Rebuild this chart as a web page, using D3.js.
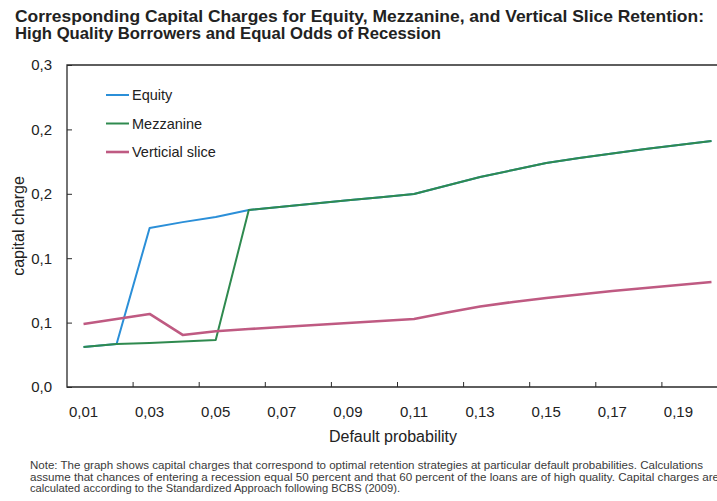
<!DOCTYPE html>
<html>
<head>
<meta charset="utf-8">
<script src="https://cdn.jsdelivr.net/npm/d3@7/dist/d3.min.js"></script>
<style>
    body { margin: 0; background: #fff; }
    text { font-family: "Liberation Sans", Arial, sans-serif; fill: #222; }
</style>
</head>
<body>
<svg id="chart" width="717" height="501"></svg>
<script>
// default probabilities (categories)
const categories = ["0,01", "0,02", "0,03", "0,04", "0,05", "0,06", "0,07", "0,08", "0,09", "0,10",
    "0,11", "0,12", "0,13", "0,14", "0,15", "0,16", "0,17", "0,18", "0,19", "0,20"];

const equity = [0.031, 0.0334, 0.1234, 0.128, 0.132, 0.1374, 0.1399, 0.1424, 0.1449, 0.1474,
    0.1498, 0.1564, 0.163, 0.1685, 0.1739, 0.1778, 0.1813, 0.1848, 0.1879, 0.191];
const mezzanine = [0.031, 0.0334, 0.0342, 0.0353, 0.0365, 0.1374, 0.1399, 0.1424, 0.1449, 0.1474,
    0.1498, 0.1564, 0.163, 0.1685, 0.1739, 0.1778, 0.1813, 0.1848, 0.1879, 0.191];
const verticalSlice = [0.0489, 0.0528, 0.0567, 0.0404, 0.0433, 0.045, 0.0466, 0.0481, 0.0497, 0.0512,
    0.0528, 0.0578, 0.0625, 0.066, 0.0691, 0.0718, 0.0745, 0.0769, 0.0792, 0.0815];

const yTickValues = [0, 0.05, 0.1, 0.15, 0.2, 0.25];
const yTickLabels = ["0,0", "0,1", "0,1", "0,2", "0,2", "0,3"];
const xLabelCategories = categories.filter((c, i) => i % 2 === 0);

const seriesNames = ["Equity", "Mezzanine", "Verticial slice"];
const seriesColors = ["#2b8fd8", "#2f8a4f", "#bf5a82"];
const seriesWidths = [2, 2, 2.6];

const titleLines = [
    "Corresponding Capital Charges for Equity, Mezzanine, and Vertical Slice Retention:",
    "High Quality Borrowers and Equal Odds of Recession"
];
const noteLines = [
    "Note: The graph shows capital charges that correspond to optimal retention strategies at particular default probabilities. Calculations",
    "assume that chances  of entering a recession equal  50 percent and that 60 percent of the loans are  of high quality.  Capital charges  are",
    "calculated according to the Standardized  Approach following BCBS (2009)."
];

const svg = d3.select("#chart");
const plot = {left: 67, right: 728, top: 65, bottom: 387};

const x = d3.scaleBand()
    .domain(categories)
    .range([plot.left, plot.right])
    .padding(0);
const xMid = (c) => x(c) + x.bandwidth() / 2;

const y = d3.scaleLinear()
    .domain([0, 0.25])
    .range([plot.bottom, plot.top]);

// title
svg.append("g").selectAll("text")
    .data(titleLines)
    .join("text")
    .attr("x", 15)
    .attr("y", (d, i) => 22 + i * 17)
    .attr("textLength", (d, i) => i === 0 ? 689 : 426)
    .attr("lengthAdjust", "spacingAndGlyphs")
    .style("font-size", "16.5px")
    .style("font-weight", "bold")
    .text(d => d);

// plot frame (right part runs off the picture)
svg.append("path")
    .attr("d", `M${plot.right},${plot.top}H${plot.left}V${plot.bottom}H${plot.right}`)
    .attr("fill", "none")
    .attr("stroke", "#2a2a2a")
    .attr("stroke-width", 1.3);

// y axis
const yAxis = svg.append("g")
    .attr("transform", `translate(${plot.left},0)`)
    .call(d3.axisLeft(y)
        .tickValues(yTickValues)
        .tickFormat((d, i) => yTickLabels[i])
        .tickSizeInner(-5)
        .tickSizeOuter(0)
        .tickPadding(15));
yAxis.select(".domain").remove();
yAxis.selectAll("line").attr("stroke", "#2a2a2a");
yAxis.selectAll("text")
    .style("font-size", "15px")
    .style("font-family", "'Liberation Sans', Arial, sans-serif")
    .attr("fill", "#222");

// x axis: ticks between every second category, labels at odd probabilities
svg.append("g").selectAll("line")
    .data(xLabelCategories.slice(1))
    .join("line")
    .attr("x1", d => x(d))
    .attr("x2", d => x(d))
    .attr("y1", plot.bottom)
    .attr("y2", plot.bottom - 5)
    .attr("stroke", "#2a2a2a");

svg.append("g").selectAll("text")
    .data(xLabelCategories)
    .join("text")
    .attr("x", d => xMid(d))
    .attr("y", 417)
    .attr("text-anchor", "middle")
    .style("font-size", "15px")
    .text(d => d);

svg.append("text")
    .attr("x", 393)
    .attr("y", 442)
    .attr("text-anchor", "middle")
    .style("font-size", "16px")
    .text("Default probability");

svg.append("text")
    .attr("transform", `translate(24,${(plot.top + plot.bottom) / 2}) rotate(-90)`)
    .attr("text-anchor", "middle")
    .style("font-size", "16px")
    .text("capital charge");

// lines
const line = d3.line()
    .x((d, i) => xMid(categories[i]))
    .y(d => y(d));

[equity, mezzanine, verticalSlice].forEach((values, i) => {
    svg.append("path")
        .datum(values)
        .attr("fill", "none")
        .attr("stroke", seriesColors[i])
        .attr("stroke-width", seriesWidths[i])
        .attr("stroke-linejoin", "round")
        .attr("d", line);
});

// legend
const legend = svg.append("g").attr("transform", "translate(106,95)");
seriesNames.forEach((name, i) => {
    const row = legend.append("g").attr("transform", `translate(0,${i * 28.5})`);
    row.append("line")
        .attr("x1", 0)
        .attr("x2", 23)
        .attr("stroke", seriesColors[i])
        .attr("stroke-width", seriesWidths[i]);
    row.append("text")
        .attr("x", 26)
        .attr("dy", "0.35em")
        .style("font-size", "14.5px")
        .text(name);
});

// note
svg.append("g").selectAll("text")
    .data(noteLines)
    .join("text")
    .attr("x", 30)
    .attr("y", (d, i) => 469 + i * 11.6)
    .attr("textLength", (d, i) => [673, 689, 370][i])
    .attr("lengthAdjust", "spacingAndGlyphs")
    .style("font-size", "11px")
    .style("fill", "#3a3a3a")
    .text(d => d);
</script>
</body>
</html>
